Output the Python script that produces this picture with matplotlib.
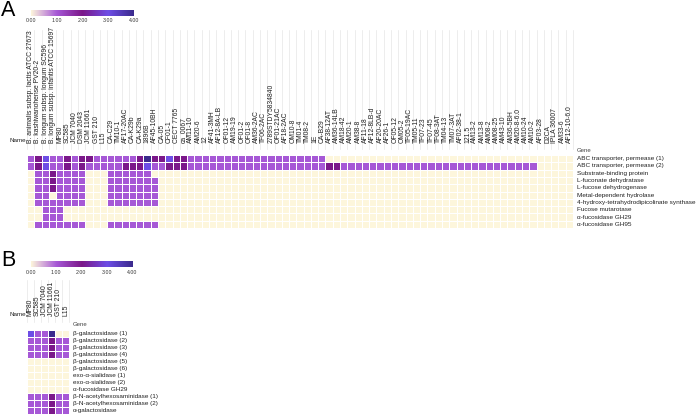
import matplotlib
matplotlib.use("Agg")
import matplotlib.pyplot as plt
import numpy as np
from matplotlib.colors import LinearSegmentedColormap

plt.rcParams['font.family'] = ['Liberation Sans', 'DejaVu Sans']

# ---------------- data ----------------
strains_a = [
    "B. animalis subsp. lactis ATCC 27673", "B. kashiwanohense PV20-2",
    "B. longum subsp. longum SC596", "B. longum subsp. infantis ATCC 15697",
    "MP80", "SC585", "JCM 7040", "DSM 2043", "JCM 11661", "GST 210", "L15",
    "CA-C29", "TM10-1", "AF17-20AC", "CA-K29b", "CA-K29a", "1896B", "AF45-10BH",
    "CA-05", "CF01-1", "CECT 7765", "ca_0067", "AM11-10", "AM20-6", "12",
    "AF41-3MH", "AF12-8A-LB", "OF01-12", "AM19-19", "OF01-2", "OF01-8",
    "AM36-2AC", "TF06-2AC", "2789STDY5834840", "OF01-21AC", "AF18-2AC",
    "OM10-8", "TM01-4", "TM08-2", "1E", "CA-B29", "AF38-12AT", "AM36-14LB",
    "AM18-42", "AM20-1", "AM38-8", "AF11-18", "AF12-8LB-d", "AF20-20AC",
    "AF26-1", "OF05-12", "OM05-2", "TF05-19AC", "TM05-11", "TF07-23", "TF07-45",
    "TF08-3AT", "TM04-13", "TM07-3AT", "AF02-38-1", "121.5", "AM13-2", "AM13-8",
    "AM08-2", "AM08-25", "AM43-10", "AM36-5BH", "AM20-8-6.0", "AM10-24",
    "AM10-2", "AF03-28", "D2CA", "IPLA 36007", "AM33-6", "AF12-10-6.0",
]
genes_a = [
    "ABC transporter, permease (1)", "ABC transporter, permease (2)",
    "Substrate-binding protein", "L-fuconate dehydratase",
    "L-fucose dehydrogenase", "Metal-dependent hydrolase",
    "4-hydroxy-tetrahydrodipicolinate synthase", "Fucose mutarotase",
    "\u03b1-fucosidase GH29", "\u03b1-fucosidase GH95",
]
abc_permease_1 = [1,2,3,1,1,2,1,2,2,1,1,1,1,1,1,2,4,2,2,3,2,2,1,1,1,1,1,1,1,1,1,1,1,1,1,1,1,1,1,1,1,0,0,0,0,0,0,0,0,0,0,0,0,0,0,0,0,0,0,0,0,0,0,0,0,0,0,0,0,0,0,0,0,0,0]
abc_permease_2 = [1,2,3,1,1,2,1,2,1,1,1,1,1,2,2,2,3,1,1,2,2,2,1,1,1,1,1,1,1,1,1,1,1,1,1,1,1,1,1,1,1,2,2,1,1,1,1,1,1,1,1,1,1,1,1,1,1,1,1,1,1,1,1,1,1,1,1,1,1,1,0,0,0,0,0]
substrate_bp   = [0,1,1,2,1,1,1,1,0,0,0,1,1,1,1,1,1,0,0,0,0,0,0,0,0,0,0,0,0,0,0,0,0,0,0,0,0,0,0,0,0,0,0,0,0,0,0,0,0,0,0,0,0,0,0,0,0,0,0,0,0,0,0,0,0,0,0,0,0,0,0,0,0,0,0]
fuconate_dh    = [0,1,1,2,1,1,1,1,0,0,0,1,1,1,1,1,1,1,0,0,0,0,0,0,0,0,0,0,0,0,0,0,0,0,0,0,0,0,0,0,0,0,0,0,0,0,0,0,0,0,0,0,0,0,0,0,0,0,0,0,0,0,0,0,0,0,0,0,0,0,0,0,0,0,0]
fucose_dh      = [0,1,1,2,1,1,1,1,0,0,0,1,1,1,1,1,1,1,0,0,0,0,0,0,0,0,0,0,0,0,0,0,0,0,0,0,0,0,0,0,0,0,0,0,0,0,0,0,0,0,0,0,0,0,0,0,0,0,0,0,0,0,0,0,0,0,0,0,0,0,0,0,0,0,0]
metal_hydrol   = [0,1,1,0,1,1,1,1,0,0,0,1,1,1,1,1,1,1,0,0,0,0,0,0,0,0,0,0,0,0,0,0,0,0,0,0,0,0,0,0,0,0,0,0,0,0,0,0,0,0,0,0,0,0,0,0,0,0,0,0,0,0,0,0,0,0,0,0,0,0,0,0,0,0,0]
dhdps          = [0,1,1,1,1,1,1,1,0,0,0,1,1,1,1,1,1,1,0,0,0,0,0,0,0,0,0,0,0,0,0,0,0,0,0,0,0,0,0,0,0,0,0,0,0,0,0,0,0,0,0,0,0,0,0,0,0,0,0,0,0,0,0,0,0,0,0,0,0,0,0,0,0,0,0]
fuc_mutarotase = [0,0,1,1,1,0,0,0,0,0,0,0,0,0,0,0,0,0,0,0,0,0,0,0,0,0,0,0,0,0,0,0,0,0,0,0,0,0,0,0,0,0,0,0,0,0,0,0,0,0,0,0,0,0,0,0,0,0,0,0,0,0,0,0,0,0,0,0,0,0,0,0,0,0,0]
fucosidase_29  = [0,0,1,1,1,0,0,0,0,0,0,0,0,0,0,0,0,0,0,0,0,0,0,0,0,0,0,0,0,0,0,0,0,0,0,0,0,0,0,0,0,0,0,0,0,0,0,0,0,0,0,0,0,0,0,0,0,0,0,0,0,0,0,0,0,0,0,0,0,0,0,0,0,0,0]
fucosidase_95  = [0,1,1,1,1,1,1,1,0,0,0,1,1,1,1,1,1,1,0,0,0,0,0,0,0,0,0,0,0,0,0,0,0,0,0,0,0,0,0,0,0,0,0,0,0,0,0,0,0,0,0,0,0,0,0,0,0,0,0,0,0,0,0,0,0,0,0,0,0,0,0,0,0,0,0]

strains_b = ["MP80", "SC585", "JCM 7040", "JCM 11661", "GST 210", "L15"]
genes_b = [
    "\u03b2-galactosidase (1)", "\u03b2-galactosidase (2)", "\u03b2-galactosidase (3)",
    "\u03b2-galactosidase (4)", "\u03b2-galactosidase (5)", "\u03b2-galactosidase (6)",
    "exo-\u03b1-sialidase (1)", "exo-\u03b1-sialidase (2)", "\u03b1-fucosidase GH29",
    "\u03b2-N-acetylhexosaminidase (1)", "\u03b2-N-acetylhexosaminidase (2)",
    "\u03b1-galactosidase",
]
b_gal_1 = [3, 1, 1, 4, 0, 0]
b_gal_2 = [1, 1, 1, 2, 1, 1]
b_gal_3 = [1, 1, 1, 2, 1, 1]
b_gal_4 = [1, 1, 1, 2, 1, 1]
b_gal_5 = [0, 0, 0, 0, 0, 0]
b_gal_6 = [0, 0, 0, 0, 0, 0]
sial_1 = [0, 0, 0, 0, 0, 0]
sial_2 = [0, 0, 0, 0, 0, 0]
fuc_gh29_b = [0, 0, 0, 0, 0, 0]
hex_1 = [1, 1, 1, 2, 1, 1]
hex_2 = [1, 1, 1, 2, 1, 1]
a_gal = [1, 1, 1, 2, 1, 1]

cbar_ticks = [0.0, 1.0, 2.0, 3.0, 4.0]

mat_a = np.array([abc_permease_1, abc_permease_2, substrate_bp, fuconate_dh,
                  fucose_dh, metal_hydrol, dhdps, fuc_mutarotase,
                  fucosidase_29, fucosidase_95], dtype=float)
mat_b = np.array([b_gal_1, b_gal_2, b_gal_3, b_gal_4, b_gal_5, b_gal_6,
                  sial_1, sial_2, fuc_gh29_b, hex_1, hex_2, a_gal], dtype=float)

# ---------------- style ----------------
cmap = LinearSegmentedColormap.from_list(
    "cp", [(0.0, "#fdf6dc"), (0.25, "#a658d6"), (0.5, "#7b1889"),
           (0.75, "#6e4ee6"), (1.0, "#3b2a8c")])

W, H = 696, 416
fig = plt.figure(figsize=(W / 100, H / 100), dpi=100)


def px_axes(x0, y0, x1, y1):
    return fig.add_axes([x0 / W, 1 - y1 / H, (x1 - x0) / W, (y1 - y0) / H])


def heatmap(ax, mat, cols, rows, top_px, x0, x1, label_bottom_px, line_top_px,
            name_y_px, gene_y_px, fs_col=4.85, fs_row=4.6):
    nr, nc = mat.shape
    ax.pcolormesh(mat, cmap=cmap, vmin=0, vmax=4, edgecolors="white",
                  linewidth=0.6)
    ax.set_xlim(0, nc)
    ax.set_ylim(nr, 0)
    ax.axis("off")
    pos = ax.get_position()
    hpx = pos.height * H
    cw = (x1 - x0) / nc
    rh = hpx / nr
    tr = ax.get_xaxis_transform()
    yb = 1 + (top_px - label_bottom_px) / hpx
    ylt = 1 + (top_px - line_top_px) / hpx
    ylb = 1 + (top_px - (label_bottom_px + 6)) / hpx
    for j in range(nc + 1):
        ax.plot([j, j], [ylb, ylt], color="#e6e6e6", lw=0.5, transform=tr,
                clip_on=False, zorder=0)
    for j, c in enumerate(cols):
        ax.text(j + 0.5, yb, c, rotation=90, ha="center", va="bottom",
                fontsize=fs_col, color="#222222", transform=tr)
    for i, g in enumerate(rows):
        ax.text(nc + 4 / cw, i + 0.5, g, ha="left", va="center",
                fontsize=fs_row, color="#222222")
    ax.text(-1 / cw, (name_y_px - top_px) / rh, "Name", ha="right",
            va="center", fontsize=4.5, color="#222222")
    ax.text(nc + 4 / cw, (gene_y_px - top_px) / rh, "Gene", ha="left",
            va="center", fontsize=4.3, color="#444444")


def colorbar(x0, x1, y0, y1, ylab):
    cax = px_axes(x0, y0, x1, y1)
    grad = np.linspace(0, 4, 256)[None, :]
    cax.imshow(grad, cmap=cmap, vmin=0, vmax=4, aspect="auto",
               extent=[0, 4, 0, 1])
    cax.axis("off")
    for t in cbar_ticks:
        fig.text((x0 + (x1 - x0) * t / 4) / W, 1 - ylab / H, f"{t:.2f}",
                 ha="center", va="center", fontsize=3.8, color="#333333")


# ---------------- panel A ----------------
fig.text(1 / W, 1 - 11 / H, "A", fontsize=15.5, ha="left", va="center")
colorbar(31, 134, 10, 16, 20.5)
ax_a = px_axes(27, 155, 573, 228)
heatmap(ax_a, mat_a, strains_a, genes_a, 155, 27, 573, 143, 30, 140, 150)

# ---------------- panel B ----------------
fig.text(1 / W, 1 - 261 / H, "B", fontsize=15.5, ha="left", va="center")
colorbar(30.5, 132, 261, 267, 272)
ax_b = px_axes(27, 330, 69, 414)
heatmap(ax_b, mat_b, strains_b, genes_b, 330, 27, 69, 316, 280, 314, 325)

fig.savefig("out.png", dpi=100)
